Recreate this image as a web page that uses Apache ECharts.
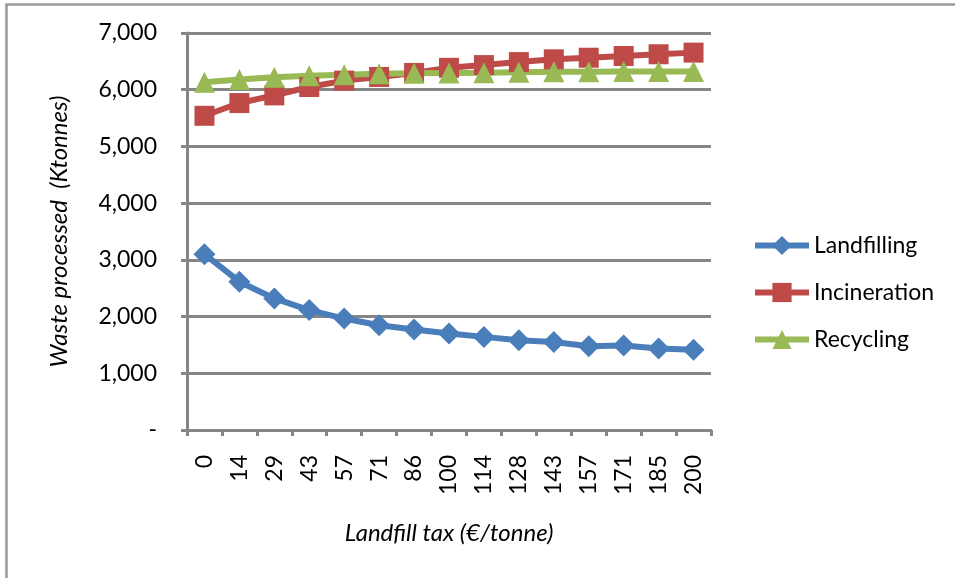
<!DOCTYPE html>
<html>
<head>
<meta charset="utf-8">
<script src="https://cdn.jsdelivr.net/npm/echarts@6/dist/echarts.min.js"></script>
<style>html,body{margin:0;padding:0;background:#fff}#c{width:955px;height:578px}</style>
</head>
<body>
<div id="c"></div>
<script>
const categories = ['0','14','29','43','57','71','86','100','114','128','143','157','171','185','200'];
const landfilling = [3100, 2615, 2320, 2115, 1965, 1848, 1772, 1702, 1642, 1583, 1552, 1478, 1490, 1437, 1417];
const incineration = [5540, 5765, 5900, 6048, 6160, 6225, 6296, 6386, 6434, 6487, 6536, 6564, 6595, 6625, 6654];
const recycling = [6130, 6180, 6220, 6245, 6265, 6280, 6290, 6295, 6300, 6310, 6315, 6315, 6320, 6320, 6320];
const yTicks = {min: 0, max: 7000, interval: 1000};

const font = 'Lato, "Open Sans", sans-serif';
const gray = '#868686';
const chart = echarts.init(document.getElementById('c'), null, {renderer: 'canvas'});
function ser(name, data, color, symbol, size) {
  return {
    name, type: 'line', data, symbol, symbolSize: size,
    lineStyle: {color, width: 6}, itemStyle: {color},
    emphasis: {disabled: true}, animation: false
  };
}
chart.setOption({
  animation: false,
  graphic: [{type: 'rect', shape: {x: 6.5, y: 4.5, width: 1000, height: 700}, style: {fill: 'none', stroke: '#999', lineWidth: 2.5}, silent: true}],
  grid: {left: 187, right: 244, top: 33, bottom: 148},
  legend: {
    orient: 'vertical', left: 747, top: 229, itemGap: 24, itemWidth: 54, itemHeight: 24,
    textStyle: {fontFamily: font, fontSize: 23, color: '#000'},
    lineStyle: {width: 6},
    data: ['Landfilling', 'Incineration', 'Recycling']
  },
  xAxis: {
    type: 'category', data: categories, boundaryGap: true,
    name: 'Landfill tax (€/tonne)', nameLocation: 'middle', nameGap: 91,
    nameTextStyle: {fontFamily: font, fontSize: 24, fontStyle: 'italic', color: '#000'},
    axisLine: {lineStyle: {color: gray, width: 3}},
    axisTick: {show: true, length: 6, interval: 0, lineStyle: {color: gray, width: 3}},
    axisLabel: {rotate: 90, interval: 0, margin: 25, fontFamily: font, fontSize: 23, color: '#000'}
  },
  yAxis: {
    type: 'value', min: yTicks.min, max: yTicks.max, interval: yTicks.interval,
    name: 'Waste processed  (Ktonnes)', nameLocation: 'middle', nameGap: 116,
    nameTextStyle: {fontFamily: font, fontSize: 24, fontStyle: 'italic', color: '#000'},
    axisLine: {show: true, lineStyle: {color: gray, width: 3}},
    axisTick: {show: true, length: 6, lineStyle: {color: gray, width: 3}},
    splitLine: {lineStyle: {color: gray, width: 3}},
    axisLabel: {margin: 30, fontFamily: font, fontSize: 23, color: '#000',
      formatter: v => v === 0 ? '-' : v.toLocaleString('en-US')}
  },
  series: [
    ser('Landfilling', landfilling, '#4a7ebb', 'diamond', 22),
    ser('Incineration', incineration, '#be4b48', 'rect', 20),
    ser('Recycling', recycling, '#98b954', 'triangle', 21)
  ]
});
</script>
</body>
</html>
